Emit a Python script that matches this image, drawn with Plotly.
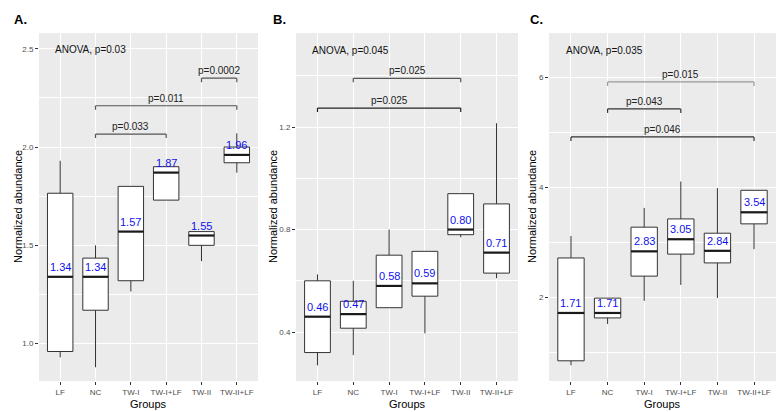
import plotly.graph_objects as go

# ---------------- data ----------------
groups = ["LF", "NC", "TW-I", "TW-I+LF", "TW-II", "TW-II+LF"]

a_q1 = [0.96, 1.17, 1.32, 1.73, 1.50, 1.92]
a_med = [1.34, 1.34, 1.57, 1.87, 1.55, 1.96]
a_q3 = [1.765, 1.435, 1.80, 1.90, 1.57, 2.00]
a_lo = [0.93, 0.88, 1.265, 1.73, 1.42, 1.87]
a_hi = [1.93, 1.50, 1.80, 1.90, 1.57, 2.07]

b_q1 = [0.32, 0.415, 0.495, 0.54, 0.78, 0.63]
b_med = [0.46, 0.47, 0.58, 0.59, 0.80, 0.71]
b_q3 = [0.60, 0.52, 0.70, 0.715, 0.94, 0.90]
b_lo = [0.27, 0.31, 0.495, 0.395, 0.77, 0.61]
b_hi = [0.625, 0.60, 0.80, 0.715, 0.94, 1.215]

c_q1 = [0.84, 1.62, 2.38, 2.78, 2.62, 3.33]
c_med = [1.71, 1.71, 2.83, 3.05, 2.84, 3.54]
c_q3 = [2.71, 1.98, 3.27, 3.42, 3.16, 3.94]
c_lo = [0.76, 1.51, 1.93, 2.22, 1.98, 2.87]
c_hi = [3.11, 1.98, 3.62, 4.10, 3.98, 3.94]

# brackets: (from group index, to group index, y, label)
a_brackets = [(4, 5, 2.35, "p=0.0002"), (1, 5, 2.21, "p=0.011"), (1, 3, 2.066, "p=0.033")]
b_brackets = [(1, 4, 1.39, "p=0.025"), (0, 4, 1.274, "p=0.025")]
c_brackets = [(1, 5, 5.91, "p=0.015"), (1, 3, 5.42, "p=0.043"), (0, 5, 4.91, "p=0.046")]

anova_labels = ["ANOVA, p=0.03", "ANOVA, p=0.045", "ANOVA, p=0.035"]
anova_y = [2.495, 1.50, 6.49]
panel_letters = ["A.", "B.", "C."]

# ---------------- layout helpers ----------------
W, H = 784, 412
def px(x):
    return x / W
def py(y):
    return 1 - y / H

panels = [
    dict(q1=a_q1, med=a_med, q3=a_q3, lo=a_lo, hi=a_hi, br=a_brackets,
         xdom=(39, 258), yrange=[0.81, 2.58], dtick=0.5, minor=0.25, tickfmt=".1f",
         ytitle_x=18, letter_x=12, brcol=["#555555", "#555555", "#555555"]),
    dict(q1=b_q1, med=b_med, q3=b_q3, lo=b_lo, hi=b_hi, br=b_brackets,
         xdom=(296, 518), yrange=[0.209, 1.567], dtick=0.4, minor=0.2, tickfmt=".1f",
         ytitle_x=273, letter_x=271, brcol=["#555555", "#222222"]),
    dict(q1=c_q1, med=c_med, q3=c_q3, lo=c_lo, hi=c_hi, br=c_brackets,
         xdom=(549, 776), yrange=[0.473, 6.8], dtick=2, minor=1, tickfmt="d",
         ytitle_x=532, letter_x=528, brcol=["#999999", "#333333", "#333333"]),
]

TOP, BOT = 33, 381
FONT = "Liberation Sans Narrow, Arial Narrow, Liberation Sans, Arial, sans-serif"
BW = 0.72

fig = go.Figure()
shapes = []
annotations = []
xs = list(range(len(groups)))

for i, p in enumerate(panels):
    sfx = "" if i == 0 else str(i + 1)
    xa, ya = "x" + sfx, "y" + sfx
    fig.add_trace(go.Box(
        x=xs, q1=p["q1"], median=p["med"], q3=p["q3"],
        lowerfence=p["lo"], upperfence=p["hi"],
        width=BW, whiskerwidth=0, boxpoints=False,
        fillcolor="white", line=dict(color="#333333", width=1),
        xaxis=xa, yaxis=ya, showlegend=False, hoverinfo="skip"))
    # thick median lines
    mx, my = [], []
    for k, m in zip(xs, p["med"]):
        mx += [k - BW / 2, k + BW / 2, None]
        my += [m, m, None]
    fig.add_trace(go.Scatter(x=mx, y=my, mode="lines",
                             line=dict(color="#1a1a1a", width=2.2),
                             xaxis=xa, yaxis=ya, showlegend=False, hoverinfo="skip"))
    # median value labels
    for k, m in zip(xs, p["med"]):
        annotations.append(dict(x=k, y=m, xref=xa, yref=ya, text=f"{m:.2f}",
                                showarrow=False, yanchor="bottom", yshift=2,
                                font=dict(color="#1010ee", size=11, family=FONT)))
    # brackets
    for (g0, g1, yb, lab), col in zip(p["br"], p["brcol"]):
        shapes.append(dict(type="line", xref=xa, yref=ya, x0=g0, x1=g1, y0=yb, y1=yb,
                           line=dict(color=col, width=1.2)))
        for g in (g0, g1):
            shapes.append(dict(type="line", xref=xa, yref=ya, x0=g, x1=g,
                               ysizemode="pixel", yanchor=yb, y0=0, y1=-4,
                               line=dict(color=col, width=1.2)))
        annotations.append(dict(x=(g0 + g1) / 2, y=yb, xref=xa, yref=ya, text=lab,
                                showarrow=False, yanchor="bottom", yshift=0,
                                font=dict(color="#222222", size=10, family=FONT)))
    # ANOVA label
    annotations.append(dict(x=-0.2, y=anova_y[i], xref=xa, yref=ya, text=anova_labels[i],
                            showarrow=False, xanchor="left", yanchor="middle",
                            font=dict(color="#111111", size=10, family=FONT)))
    # panel letter
    annotations.append(dict(x=px(p["letter_x"]), y=py(20), xref="paper", yref="paper",
                            text="<b>" + panel_letters[i] + "</b>", showarrow=False,
                            xanchor="left", yanchor="middle",
                            font=dict(color="black", size=13, family=FONT)))
    # y title
    annotations.append(dict(x=px(p["ytitle_x"]), y=py((TOP + BOT) / 2), xref="paper", yref="paper",
                            text="Normalized abundance", textangle=-90, showarrow=False,
                            xanchor="center", yanchor="middle",
                            font=dict(color="black", size=11, family=FONT)))
    # x title
    annotations.append(dict(x=px((p["xdom"][0] + p["xdom"][1]) / 2), y=py(404),
                            xref="paper", yref="paper", text="Groups", showarrow=False,
                            xanchor="center", yanchor="middle",
                            font=dict(color="black", size=11, family=FONT)))

    xkey = "xaxis" + sfx
    ykey = "yaxis" + sfx
    fig.layout[xkey] = dict(domain=[px(p["xdom"][0]), px(p["xdom"][1])], anchor=ya,
                            range=[-0.6, 5.6], tickvals=xs, ticktext=groups,
                            showgrid=True, gridcolor="white", gridwidth=1,
                            zeroline=False, ticks="outside", ticklen=3, tickcolor="#333333",
                            tickfont=dict(size=8, color="#4d4d4d", family=FONT),
                            showline=False, fixedrange=True)
    fig.layout[ykey] = dict(domain=[py(BOT), py(TOP)], anchor=xa, range=p["yrange"],
                            dtick=p["dtick"], tick0=0, tickformat=p["tickfmt"],
                            showgrid=True, gridcolor="white", gridwidth=1,
                            minor=dict(dtick=p["minor"], tick0=0, showgrid=True,
                                       gridcolor="white", gridwidth=0.5),
                            zeroline=False, ticks="outside", ticklen=3, tickcolor="#333333",
                            tickfont=dict(size=8, color="#4d4d4d", family=FONT),
                            showline=False, fixedrange=True)

# panel backgrounds
for p in panels:
    shapes.insert(0, dict(type="rect", xref="paper", yref="paper", layer="below",
                          x0=px(p["xdom"][0]), x1=px(p["xdom"][1]), y0=py(BOT), y1=py(TOP),
                          fillcolor="#ebebeb", line=dict(width=0)))

fig.update_layout(width=W, height=H, margin=dict(l=0, r=0, t=0, b=0),
                  paper_bgcolor="white", plot_bgcolor="rgba(0,0,0,0)",
                  shapes=shapes, annotations=annotations, font=dict(family=FONT))

fig.write_html("out.html", config={"displayModeBar": False},
               post_script="document.body.style.margin='0';document.body.style.padding='0';"
                           "document.body.style.overflow='hidden';")
